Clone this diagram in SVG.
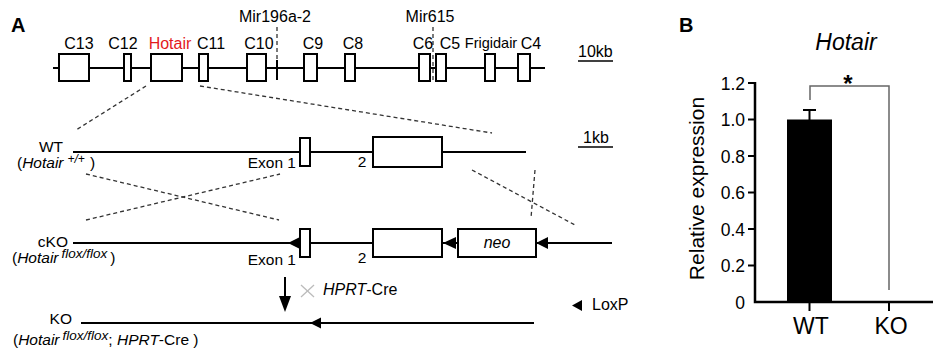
<svg xmlns="http://www.w3.org/2000/svg" width="933" height="354" viewBox="0 0 933 354">
<style>
text{font-family:"Liberation Sans",Arial,sans-serif;fill:#000}
.lbl{font-size:16px}
.sm{font-size:15.5px}
.it{font-style:italic}
.sup{font-size:13.5px;font-style:italic}
.pl{font-size:20px;font-weight:bold}
.ln{stroke:#000;stroke-width:2;fill:none}
.bx{stroke:#000;stroke-width:2;fill:#fff}
.dash{stroke:#333;stroke-width:1.3;stroke-dasharray:4 3;fill:none}
.tri{fill:#000}
.ax{stroke:#000;stroke-width:2.5;fill:none}
.tk{font-size:17.5px}
</style>
<rect width="933" height="354" fill="#fff"/>
<text class="pl" x="11" y="32">A</text>
<text class="pl" x="679" y="32">B</text>

<g id="gene-map">
<line class="ln" x1="53" y1="68" x2="545" y2="68"/>
<rect class="bx" x="59" y="54" width="30" height="27"/>
<rect class="bx" x="124" y="54" width="7" height="27"/>
<rect class="bx" x="151" y="54" width="31" height="27"/>
<rect class="bx" x="199" y="54" width="9" height="27"/>
<rect class="bx" x="247" y="54" width="19" height="27"/>
<line class="ln" x1="277" y1="60" x2="277" y2="80"/>
<rect class="bx" x="304" y="54" width="13" height="27"/>
<rect class="bx" x="345" y="54" width="10" height="27"/>
<rect class="bx" x="419" y="54" width="11" height="27"/>
<rect class="bx" x="436" y="54" width="10" height="27"/>
<rect class="bx" x="485" y="54" width="10" height="27"/>
<rect class="bx" x="518" y="54" width="12" height="27"/>
<line class="dash" x1="277" y1="27" x2="277" y2="60"/>
<line class="dash" x1="433" y1="27" x2="433" y2="80"/>
<g class="lbl" text-anchor="middle">
<text x="79" y="49">C13</text>
<text x="123" y="49">C12</text>
<text x="170" y="49" style="fill:#e31a1c">Hotair</text>
<text x="211" y="49">C11</text>
<text x="259" y="49">C10</text>
<text x="275" y="22">Mir196a-2</text>
<text x="313" y="49">C9</text>
<text x="353" y="49">C8</text>
<text x="430" y="22">Mir615</text>
<text x="423" y="49">C6</text>
<text x="450" y="49">C5</text>
<text x="491" y="48" style="font-size:14.5px">Frigidair</text>
<text x="531" y="49">C4</text>
</g>
<text class="lbl" x="578" y="57">10kb</text>
<line x1="578" y1="61" x2="613" y2="61" stroke="#000" stroke-width="1.5"/>
</g>

<g id="wt-allele">
<line class="ln" x1="73" y1="152" x2="526" y2="152"/>
<rect class="bx" x="300" y="138" width="10" height="28"/>
<rect class="bx" x="373" y="137" width="69" height="30"/>
<text class="sm" x="63" y="151.5" text-anchor="end">WT</text>
<text class="sm" x="17" y="167.5">(<tspan class="it">Hotair</tspan><tspan class="it" style="font-size:12px" dx="4" dy="-4.5">+/+</tspan><tspan dx="5" dy="4.5">)</tspan></text>
<text class="sm" x="296" y="168" text-anchor="end">Exon 1</text>
<text class="sm" x="362" y="167" text-anchor="middle">2</text>
<text class="lbl" x="583" y="143">1kb</text>
<line x1="578" y1="147" x2="613" y2="147" stroke="#000" stroke-width="1.5"/>
</g>

<g id="cko-allele">
<line class="ln" x1="73" y1="243" x2="612" y2="243"/>
<rect class="bx" x="300" y="229" width="10" height="28"/>
<rect class="bx" x="373" y="229" width="69" height="28"/>
<rect class="bx" x="458" y="229" width="78" height="28"/>
<polygon class="tri" points="288,243 300,237 300,249"/>
<polygon class="tri" points="443,243 456,237 456,249"/>
<polygon class="tri" points="536,243 548,237 548,249"/>
<text class="lbl it" x="497" y="248" text-anchor="middle">neo</text>
<text class="sm" x="68" y="247" text-anchor="end">cKO</text>
<text class="sm" x="12" y="263">(<tspan class="it">Hotair</tspan><tspan class="sup" dx="3" dy="-5.5">flox/flox</tspan><tspan dx="3" dy="5.5">)</tspan></text>
<text class="sm" x="296" y="265" text-anchor="end">Exon 1</text>
<text class="sm" x="362" y="263" text-anchor="middle">2</text>
</g>

<g id="ko-allele">
<line class="ln" x1="81" y1="323" x2="534" y2="323"/>
<polygon class="tri" points="310,323 321,317.5 321,328.5"/>
<text class="sm" x="72" y="324" text-anchor="end">KO</text>
<text class="sm" x="13" y="345">(<tspan class="it">Hotair</tspan><tspan class="sup" dx="3" dy="-5.5">flox/flox</tspan><tspan dy="5.5">; </tspan><tspan class="it">HPRT</tspan>-Cre )</text>
</g>

<g id="cre-cross">
<line x1="301" y1="285" x2="314" y2="297" stroke="#bbb" stroke-width="1.3"/>
<line x1="314" y1="285" x2="301" y2="297" stroke="#bbb" stroke-width="1.3"/>
<text class="lbl" x="323" y="295"><tspan class="it">HPRT</tspan>-Cre</text>
</g>

<g id="legend">
<polygon class="tri" points="572,305.5 582,300 582,311"/>
<text class="lbl" x="592" y="310">LoxP</text>
</g>

<g id="connectors">
<line class="dash" x1="146" y1="86" x2="76" y2="130"/>
<line class="dash" x1="200" y1="86" x2="492" y2="133"/>
<line class="dash" x1="86" y1="174" x2="279" y2="220"/>
<line class="dash" x1="86" y1="220" x2="280" y2="174"/>
<line class="dash" x1="472" y1="170" x2="575" y2="225"/>
<line class="dash" x1="535" y1="170" x2="531" y2="218"/>
<line class="ln" x1="285" y1="277" x2="285" y2="298"/>
<polygon class="tri" points="279,296 291,296 285,312"/>
</g>

<g id="chart">
<text x="846" y="50" text-anchor="middle" style="font-size:23px;font-style:italic">Hotair</text>
<rect x="787" y="119.5" width="45" height="182.5" fill="#000"/>
<line x1="809.5" y1="120" x2="809.5" y2="110" stroke="#000" stroke-width="2"/>
<line x1="803" y1="110" x2="816" y2="110" stroke="#000" stroke-width="2"/>
<path d="M810,100 V86 H889 V290" fill="none" stroke="#666" stroke-width="1.5"/>
<text x="848" y="92" text-anchor="middle" style="font-size:24px;font-weight:bold">*</text>
<path class="ax" d="M755,82 V302 H933"/>
<g stroke="#000" stroke-width="2">
<line x1="748" y1="83" x2="755" y2="83"/>
<line x1="748" y1="119.5" x2="755" y2="119.5"/>
<line x1="748" y1="156" x2="755" y2="156"/>
<line x1="748" y1="192.5" x2="755" y2="192.5"/>
<line x1="748" y1="229" x2="755" y2="229"/>
<line x1="748" y1="265.5" x2="755" y2="265.5"/>
<line x1="809.5" y1="302" x2="809.5" y2="311"/>
<line x1="889" y1="302" x2="889" y2="311"/>
</g>
<g class="tk" text-anchor="end">
<text x="745" y="89.5">1.2</text>
<text x="745" y="126">1.0</text>
<text x="745" y="162.5">0.8</text>
<text x="745" y="199">0.6</text>
<text x="745" y="235.5">0.4</text>
<text x="745" y="272">0.2</text>
<text x="745" y="308.5">0</text>
</g>
<text x="811" y="334" text-anchor="middle" style="font-size:23px">WT</text>
<text x="891" y="334" text-anchor="middle" style="font-size:23px">KO</text>
<text transform="translate(704,188.5) rotate(-90)" text-anchor="middle" style="font-size:21px">Relative expression</text>
</g>
</svg>
